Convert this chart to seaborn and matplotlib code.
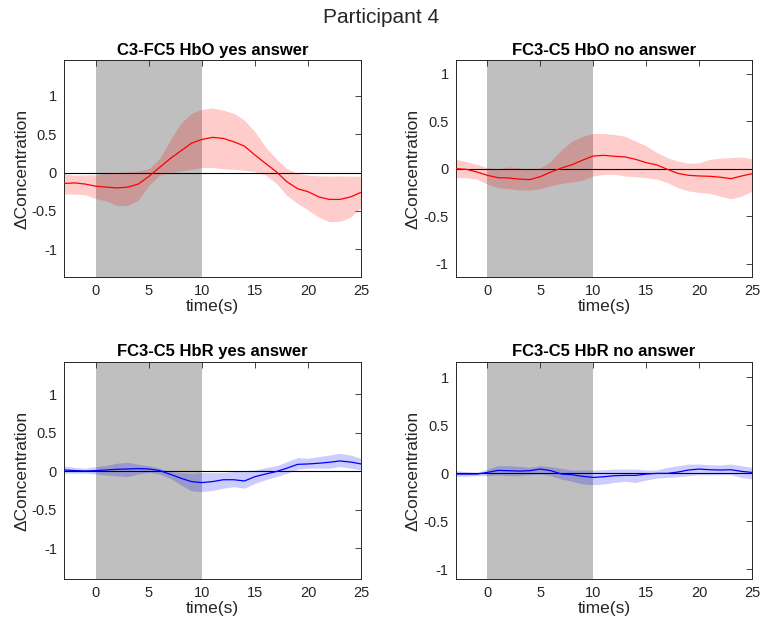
import numpy as np
import pandas as pd
import matplotlib
matplotlib.use("Agg")
import matplotlib.pyplot as plt
import seaborn as sns

time = list(range(-3, 26))

hbo_yes_mean = [-0.143, -0.135, -0.15, -0.178, -0.19, -0.20, -0.19, -0.15, -0.05, 0.065, 0.18, 0.28, 0.38, 0.43,
                0.457, 0.443, 0.40, 0.343, 0.226, 0.117, 0.01, -0.12, -0.21, -0.25, -0.317, -0.35, -0.35, -0.317, -0.257]
hbo_yes_upper = [-0.013, -0.035, -0.03, -0.03, -0.01, 0.0, 0.01, 0.02, 0.05, 0.18, 0.42, 0.64, 0.77, 0.82,
                 0.84, 0.81, 0.77, 0.68, 0.53, 0.33, 0.18, 0.05, -0.013, -0.035, -0.043, -0.048, -0.043, -0.048, -0.048]
hbo_yes_lower = [-0.28, -0.28, -0.29, -0.34, -0.37, -0.43, -0.43, -0.36, -0.165, -0.035, 0.0, 0.02, 0.04, 0.065,
                 0.065, 0.05, 0.04, 0.03, 0.01, -0.035, -0.14, -0.30, -0.40, -0.49, -0.58, -0.64, -0.635, -0.58, -0.45]

hbo_no_mean = [0.0, -0.007, -0.035, -0.07, -0.095, -0.098, -0.11, -0.115, -0.084, -0.035, 0.007, 0.042, 0.09, 0.133,
               0.14, 0.13, 0.123, 0.098, 0.063, 0.039, -0.007, -0.05, -0.07, -0.077, -0.08, -0.09, -0.105, -0.077, -0.053]
hbo_no_upper = [0.098, 0.074, 0.046, 0.01, 0.0, 0.018, 0.01, -0.007, 0.01, 0.08, 0.2, 0.29, 0.34, 0.37,
                0.37, 0.36, 0.34, 0.29, 0.24, 0.17, 0.116, 0.08, 0.056, 0.063, 0.098, 0.11, 0.116, 0.123, 0.105]
hbo_no_lower = [-0.095, -0.095, -0.11, -0.165, -0.2, -0.21, -0.225, -0.225, -0.21, -0.18, -0.154, -0.14, -0.12, -0.077,
                -0.06, -0.06, -0.077, -0.084, -0.095, -0.11, -0.147, -0.2, -0.235, -0.25, -0.26, -0.29, -0.316, -0.29, -0.235]

hbr_yes_mean = [0.017, 0.009, 0.004, 0.009, 0.017, 0.026, 0.03, 0.035, 0.03, 0.009, -0.039, -0.09, -0.134, -0.147,
                -0.134, -0.11, -0.11, -0.126, -0.07, -0.035, -0.004, 0.04, 0.09, 0.095, 0.104, 0.117, 0.134, 0.12, 0.095]
hbr_yes_upper = [0.07, 0.048, 0.04, 0.06, 0.078, 0.104, 0.117, 0.09, 0.07, 0.04, -0.004, -0.017, -0.026, -0.017,
                 -0.017, -0.017, -0.004, 0.009, 0.017, 0.048, 0.07, 0.125, 0.177, 0.17, 0.19, 0.21, 0.234, 0.21, 0.17]
hbr_yes_lower = [-0.026, -0.026, -0.026, -0.035, -0.048, -0.06, -0.07, -0.035, -0.017, -0.035, -0.09, -0.177, -0.255, -0.264,
                 -0.25, -0.22, -0.2, -0.22, -0.156, -0.11, -0.07, -0.026, 0.026, 0.04, 0.04, 0.04, 0.06, 0.04, 0.017]

hbr_no_mean = [-0.007, -0.007, -0.007, 0.01, 0.031, 0.028, 0.024, 0.028, 0.045, 0.028, -0.007, -0.014, -0.031, -0.042,
               -0.035, -0.024, -0.021, -0.021, -0.007, 0.0, 0.0, 0.014, 0.035, 0.045, 0.038, 0.035, 0.038, 0.021, 0.01]
hbr_no_upper = [0.028, 0.017, 0.01, 0.045, 0.08, 0.08, 0.073, 0.063, 0.08, 0.07, 0.052, 0.035, 0.035, 0.035,
                0.038, 0.045, 0.045, 0.045, 0.035, 0.035, 0.063, 0.08, 0.097, 0.097, 0.09, 0.087, 0.097, 0.08, 0.063]
hbr_no_lower = [-0.031, -0.028, -0.024, -0.024, -0.017, -0.024, -0.024, -0.014, -0.007, -0.024, -0.059, -0.083, -0.111, -0.118,
                -0.111, -0.094, -0.083, -0.094, -0.069, -0.049, -0.042, -0.035, -0.024, -0.014, -0.017, -0.014, -0.014, -0.042, -0.059]

titles = ["C3-FC5 HbO yes answer", "FC3-C5 HbO no answer", "FC3-C5 HbR yes answer", "FC3-C5 HbR no answer"]
ylims = [(-1.36, 1.46), (-1.14, 1.14), (-1.40, 1.42), (-1.10, 1.16)]
task_window = (0, 10)
xlim = (-3, 25)

sns.set_style("white")
plt.rcParams['font.family'] = ['Liberation Sans', 'DejaVu Sans']
dark = "#262626"

fig = plt.figure(figsize=(7.62, 6.27), dpi=100)
positions = [
    [0.084, 0.558, 0.390, 0.346],
    [0.598, 0.558, 0.389, 0.346],
    [0.084, 0.0766, 0.390, 0.346],
    [0.598, 0.0766, 0.389, 0.346],
]
series = [
    (hbo_yes_mean, hbo_yes_lower, hbo_yes_upper, "red"),
    (hbo_no_mean, hbo_no_lower, hbo_no_upper, "red"),
    (hbr_yes_mean, hbr_yes_lower, hbr_yes_upper, "blue"),
    (hbr_no_mean, hbr_no_lower, hbr_no_upper, "blue"),
]

for pos, (m, lo, hi, col), title, yl in zip(positions, series, titles, ylims):
    ax = fig.add_axes(pos)
    df = pd.DataFrame({"time": time, "mean": m, "lower": lo, "upper": hi})
    ax.axvspan(task_window[0], task_window[1], color="#bfbfbf", lw=0, zorder=0)
    ax.axhline(0, color="black", lw=0.8, zorder=1)
    ax.fill_between(df["time"], df["lower"], df["upper"], color=col, alpha=0.2, lw=0, zorder=2)
    sns.lineplot(data=df, x="time", y="mean", color=col, lw=0.9, ax=ax, zorder=3)
    ax.set_xlim(*xlim)
    ax.set_ylim(*yl)
    ax.set_xticks([0, 5, 10, 15, 20, 25])
    ax.set_yticks([-1, -0.5, 0, 0.5, 1])
    ax.set_yticklabels(["-1", "-0.5", "0", "0.5", "1"])
    ax.tick_params(direction="in", length=4, width=0.6, colors=dark, labelsize=10.5,
                   top=True, right=True, labelcolor=dark, pad=5)
    for s in ax.spines.values():
        s.set_color(dark)
        s.set_linewidth(0.7)
    ax.set_xlabel("time(s)", fontsize=12.5, color=dark, labelpad=1)
    ax.set_ylabel("\u0394Concentration", fontsize=12.5, color=dark, labelpad=2)
    ax.set_title(title, fontsize=12, fontweight="bold", color="black", pad=4)

fig.suptitle("Participant 4", fontsize=15, y=0.988, x=0.5)
fig.savefig("out.png", dpi=100)
